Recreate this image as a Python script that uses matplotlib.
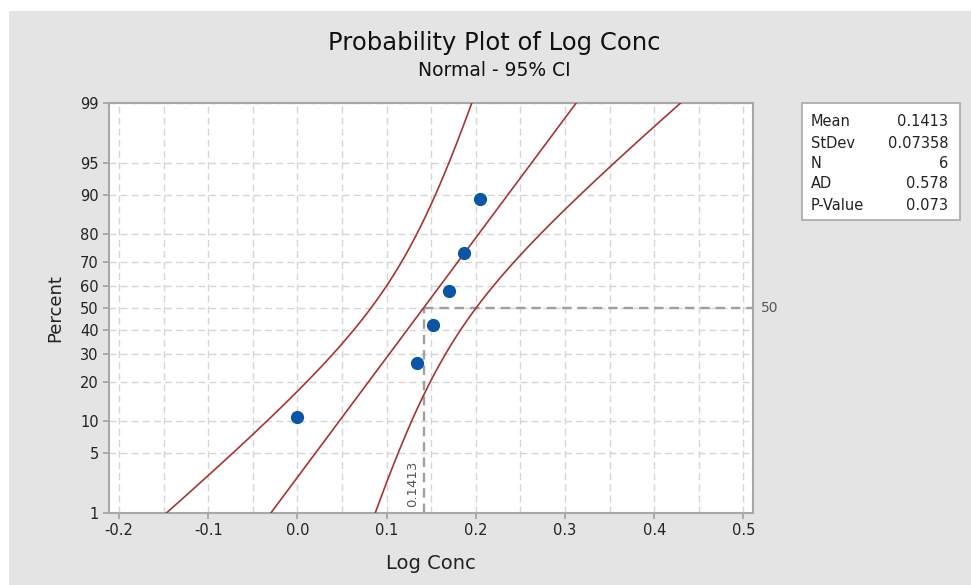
import math
import numpy as np
import matplotlib
matplotlib.use("Agg")
import matplotlib.pyplot as plt
from matplotlib.patches import Rectangle

# data
log_conc = [0.000, 0.134, 0.152, 0.170, 0.187, 0.205]
percent = [10.9, 26.6, 42.2, 57.8, 73.4, 89.1]
stat_names = ["Mean", "StDev", "N", "AD", "P-Value"]
stat_values = ["0.1413", "0.07358", "6", "0.578", "0.073"]
mean = 0.1413
stdev = 0.07358
n = 6
y_ticks = [1, 5, 10, 20, 30, 40, 50, 60, 70, 80, 90, 95, 99]
x_ticks = [-0.2, -0.1, 0.0, 0.1, 0.2, 0.3, 0.4, 0.5]

_erf = np.vectorize(math.erf, otypes=[float])


def norm_cdf(z):
    return 0.5 * (1.0 + _erf(np.asarray(z, dtype=float) / math.sqrt(2.0)))


def norm_ppf(p):
    # Acklam's approximation plus one Newton step
    p = np.asarray(p, dtype=float)
    shape = p.shape
    p = np.clip(np.atleast_1d(p).ravel(), 1e-12, 1 - 1e-12)
    a = [-3.969683028665376e+01, 2.209460984245205e+02, -2.759285104469687e+02,
         1.383577518672690e+02, -3.066479806614716e+01, 2.506628277459239e+00]
    b = [-5.447609879822406e+01, 1.615858368580409e+02, -1.556989798598866e+02,
         6.680131188771972e+01, -1.328068155288572e+01]
    c = [-7.784894002430293e-03, -3.223964580411365e-01, -2.400758277161838e+00,
         -2.549732539343734e+00, 4.374664141464968e+00, 2.938163982698783e+00]
    d = [7.784695709041462e-03, 3.224671290700398e-01, 2.445134137142996e+00,
         3.754408661907416e+00]
    plow = 0.02425
    z = np.zeros_like(p)
    lo = p < plow
    hi = p > 1 - plow
    mid = ~(lo | hi)
    q = np.sqrt(-2 * np.log(p[lo]))
    z[lo] = (((((c[0]*q+c[1])*q+c[2])*q+c[3])*q+c[4])*q+c[5]) / ((((d[0]*q+d[1])*q+d[2])*q+d[3])*q+1)
    q = np.sqrt(-2 * np.log(1 - p[hi]))
    z[hi] = -(((((c[0]*q+c[1])*q+c[2])*q+c[3])*q+c[4])*q+c[5]) / ((((d[0]*q+d[1])*q+d[2])*q+d[3])*q+1)
    q = p[mid] - 0.5
    r = q * q
    z[mid] = (((((a[0]*r+a[1])*r+a[2])*r+a[3])*r+a[4])*r+a[5])*q / (((((b[0]*r+b[1])*r+b[2])*r+b[3])*r+b[4])*r+1)
    if z.size:
        e = norm_cdf(z) - p
        u = e * math.sqrt(2 * math.pi) * np.exp(z * z / 2)
        z = z - u / (1 + z * u / 2)
    return z.reshape(shape)


def forward(y):
    return norm_ppf(np.asarray(y, dtype=float) / 100.0)


def inverse(z):
    return 100.0 * norm_cdf(z)


plt.rcParams['font.family'] = ['DejaVu Sans']

fig = plt.figure(figsize=(9.71, 5.85), dpi=100, facecolor='white')
fig.patches.append(Rectangle((9 / 971, 0), 1, 1 - 11 / 585, transform=fig.transFigure,
                             facecolor='#e4e4e4', edgecolor='none', zorder=-5))

ax = fig.add_axes([109 / 971, 1 - 513 / 585, (753 - 109) / 971, (513 - 103) / 585])
ax.set_facecolor('white')
ax.set_yscale('function', functions=(forward, inverse))
ax.set_xlim(-0.2113, 0.5107)
ax.set_ylim(1, 99)

# fitted line and 95% CI bands
pp = np.linspace(0.2, 99.8, 600)
zz = forward(pp)
fit = mean + stdev * zz
half = 1.96 * stdev * np.sqrt(1.0 / n + zz ** 2 / (2 * n - 1))
red = '#a83434'
ax.plot(fit, pp, color=red, lw=1.2, zorder=3)
ax.plot(fit - half, pp, color=red, lw=1.2, zorder=3)
ax.plot(fit + half, pp, color=red, lw=1.2, zorder=3)

# reference lines at the mean
ax.plot([mean, mean], [1, 50], color='#a0a0a0', lw=1.7, ls=(0, (4, 2.5)), zorder=2)
ax.plot([mean, 0.5107], [50, 50], color='#a0a0a0', lw=1.7, ls=(0, (4, 2.5)), zorder=2)
ax.text(mean - 0.005, 1.2, "0.1413", rotation=90, ha='right', va='bottom',
        fontsize=9.5, color='#555555')
ax.text(1.013, 50, "50", transform=ax.get_yaxis_transform(), ha='left', va='center',
        fontsize=10, color='#555555')

ax.plot(log_conc, percent, 'o', color='#0a55a6', ms=8.5, mec='#0a55a6', zorder=4)

ax.set_xticks(x_ticks)
ax.set_xticklabels(["%.1f" % v for v in x_ticks])
ax.set_xticks(np.arange(-0.15, 0.5, 0.1), minor=True)
ax.set_yticks(y_ticks)
ax.set_yticklabels([str(v) for v in y_ticks])
ax.yaxis.set_minor_locator(matplotlib.ticker.NullLocator())
ax.grid(True, which='both', color='#d6d6d6', lw=1, ls=(0, (5, 3)), zorder=1)
ax.tick_params(axis='both', which='major', labelsize=10.5, colors='#a0a0a0',
               labelcolor='#222222', length=4, width=1.2)
ax.tick_params(axis='x', which='minor', length=0)
for sp in ax.spines.values():
    sp.set_color('#a8a8a8')
    sp.set_linewidth(1.5)

ax.set_xlabel("Log Conc", fontsize=14, color='#222222', labelpad=11)
ax.set_ylabel("Percent", fontsize=13, color='#222222', labelpad=11)

fig.text(494 / 971, 1 - 43 / 585, "Probability Plot of Log Conc", ha='center', va='center',
         fontsize=17.5, color='#111111')
fig.text(494 / 971, 1 - 70 / 585, "Normal - 95% CI", ha='center', va='center',
         fontsize=13.5, color='#111111')

# statistics box
fig.patches.append(Rectangle((802 / 971, 1 - 220 / 585), 158 / 971, 117 / 585,
                             transform=fig.transFigure, facecolor='white',
                             edgecolor='#a8a8a8', lw=1.2, zorder=1))
rows_y = [122, 143, 164, 184, 205]
for name, val, yy in zip(stat_names, stat_values, rows_y):
    fig.text(811 / 971, 1 - yy / 585, name, ha='left', va='center', fontsize=10.5, color='#222222')
    fig.text(948 / 971, 1 - yy / 585, val, ha='right', va='center', fontsize=10.5, color='#222222')

fig.savefig('out.png', dpi=100, facecolor=fig.get_facecolor())
